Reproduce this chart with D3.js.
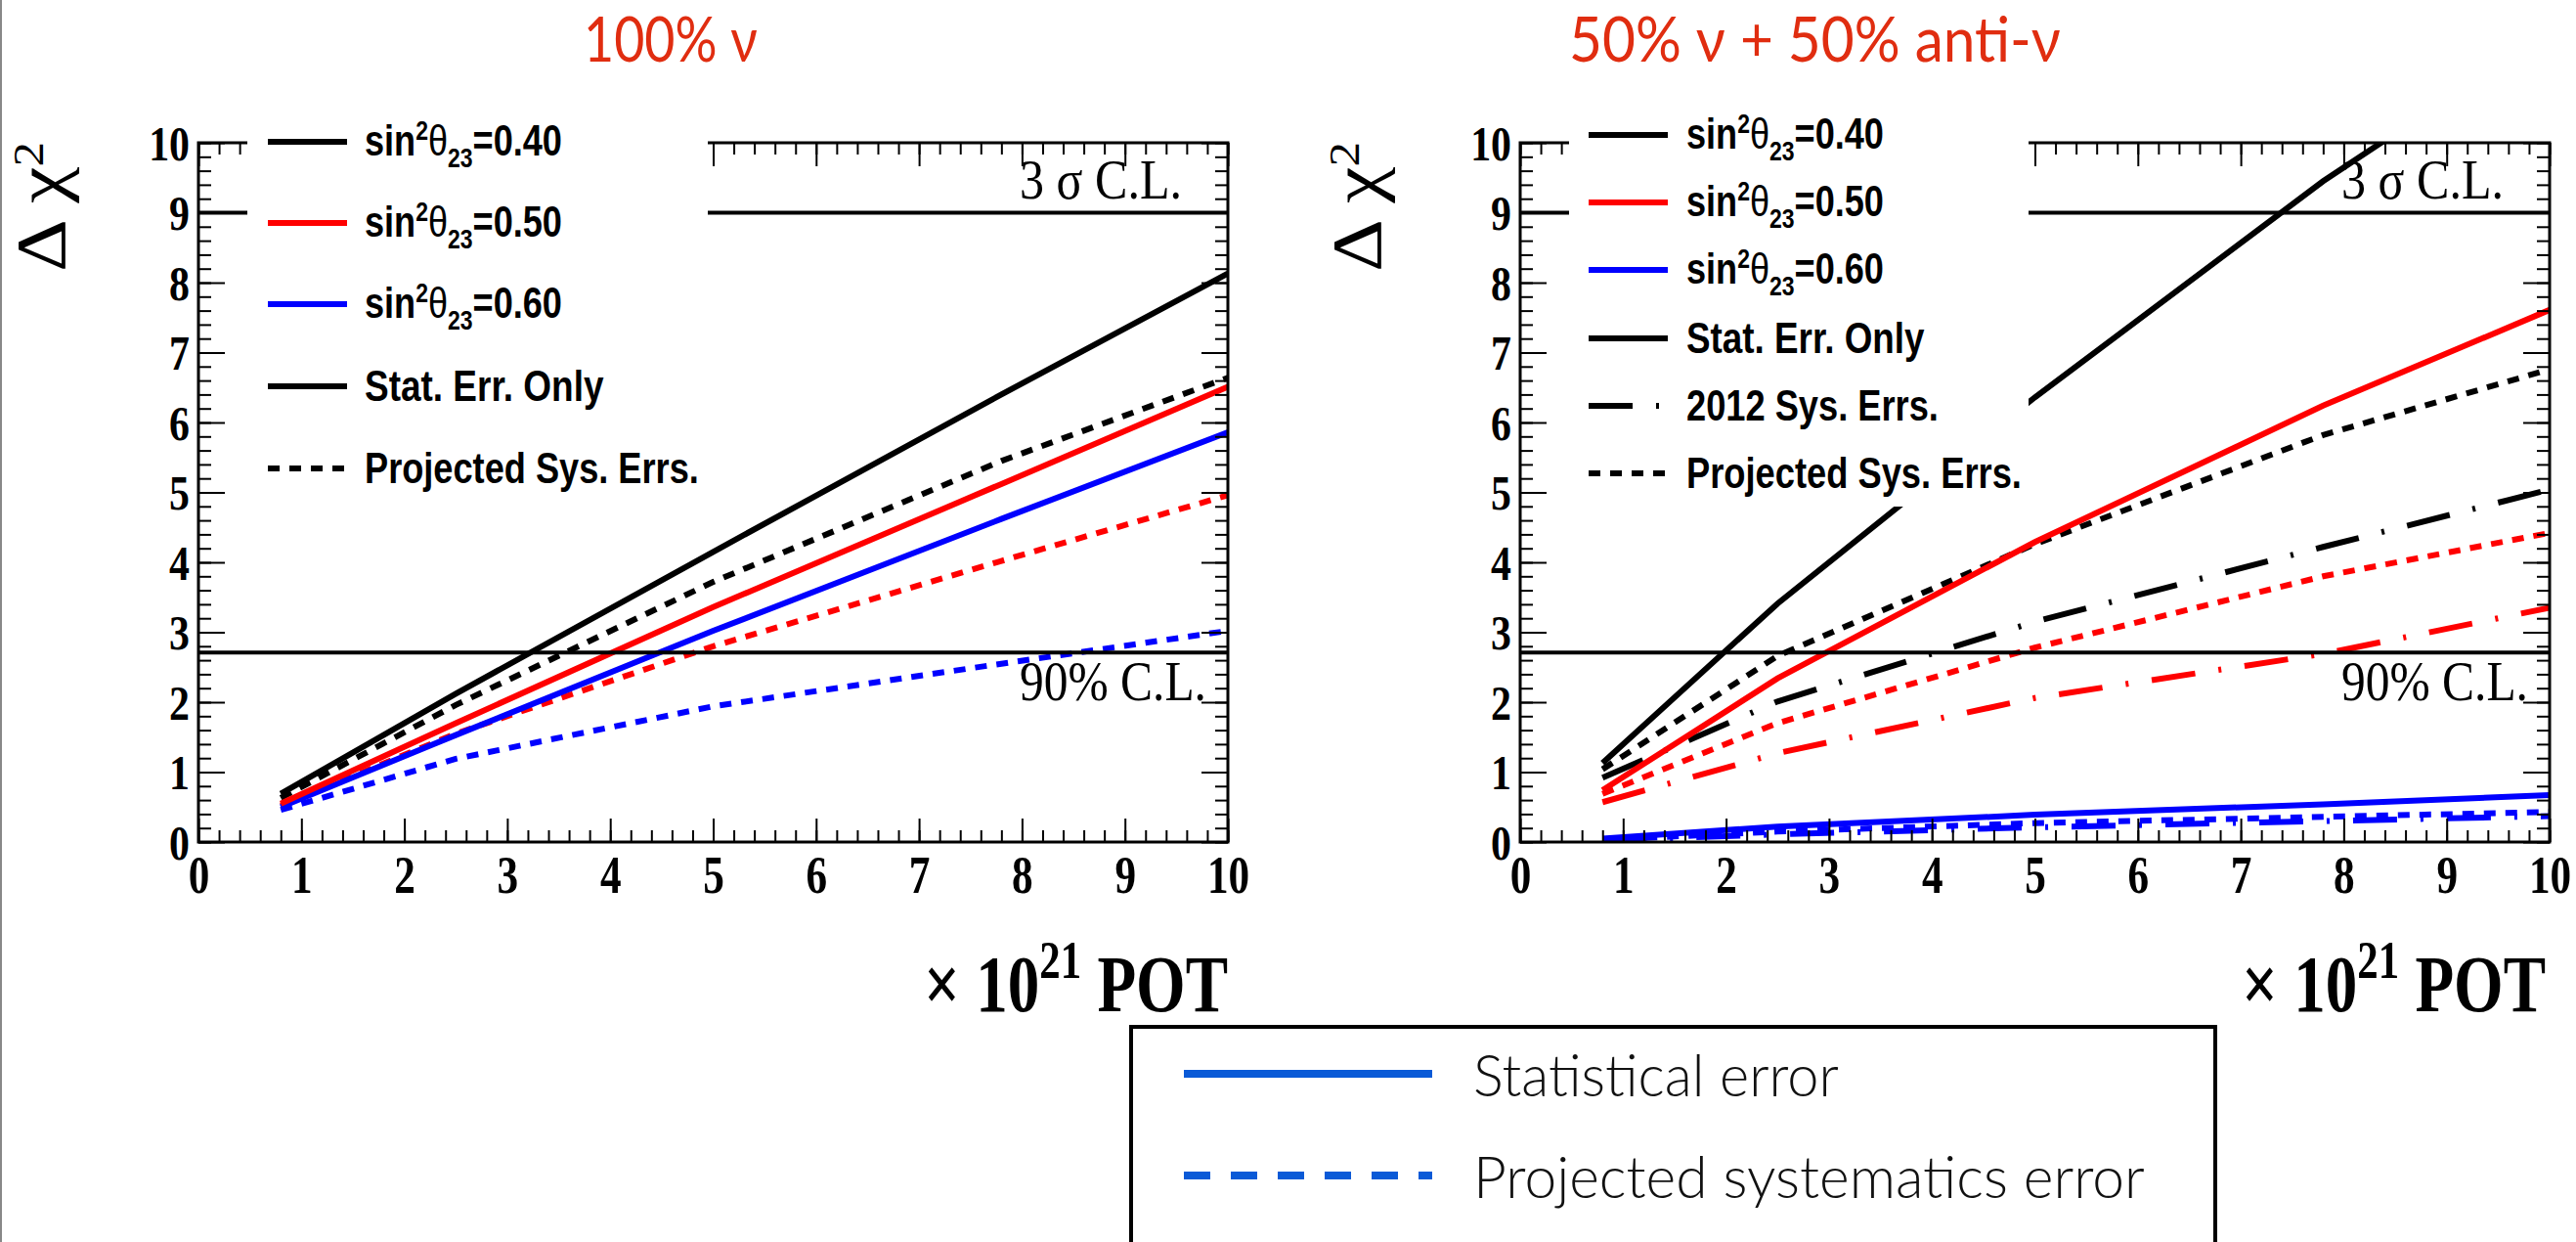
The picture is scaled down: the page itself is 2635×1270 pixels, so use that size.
<!DOCTYPE html>
<html>
<head>
<meta charset="utf-8">
<script src="https://cdn.jsdelivr.net/npm/d3@7"></script>
<style>
  html, body { margin: 0; padding: 0; background: #fff; }
  svg { display: block; }
</style>
</head>
<body>
<svg id="chart" width="2635" height="1270"></svg>
<script>
(function(){
'use strict';

// exposure (x 10^21 POT) where the sensitivities were evaluated
var potValues = [0.8, 2.5, 5.0, 7.8, 10.0];

// 100% nu running
var nuStat040 = [0.69, 2.12, 4.15, 6.40, 8.13];
var nuStat050 = [0.55, 1.70, 3.36, 5.12, 6.51];
var nuStat060 = [0.50, 1.53, 3.02, 4.62, 5.86];
var nuProj040 = [0.63, 1.96, 3.72, 5.45, 6.64];
var nuProj050 = [0.52, 1.55, 2.80, 4.02, 4.96];
var nuProj060 = [0.46, 1.19, 1.94, 2.55, 3.02];

// 50% nu + 50% anti-nu running
var mixStat040 = [1.13, 3.41, 6.36, 9.45, 11.6];
var mixStat050 = [0.74, 2.34, 4.29, 6.24, 7.61];
var mixStat060 = [0.05, 0.22, 0.39, 0.54, 0.67];
var mixSys2012040 = [0.92, 2.01, 3.15, 4.22, 5.04];
var mixSys2012050 = [0.57, 1.27, 2.06, 2.69, 3.35];
var mixSys2012060 = [0.02, 0.11, 0.21, 0.30, 0.37];
var mixProj040 = [1.04, 2.66, 4.26, 5.82, 6.76];
var mixProj050 = [0.69, 1.70, 2.78, 3.80, 4.42];
var mixProj060 = [0.03, 0.15, 0.27, 0.36, 0.43];

// confidence levels drawn as horizontal lines
var clLevels = [9, 2.71];
var xTicks = [0, 1, 2, 3, 4, 5, 6, 7, 8, 9, 10];
var yTicks = [0, 1, 2, 3, 4, 5, 6, 7, 8, 9, 10];

var panelTitles = ['100% \u03bd', '50% \u03bd + 50% anti-\u03bd'];
var thetaLabels = ['0.40', '0.50', '0.60'];
var bottomLegendLabels = ['Statistical error', 'Projected systematics error'];

var BLACK = '#000', RED = '#ff0000', BLUE = '#0000ff';
var DASH_PROJ = '12,10', DASH_2012 = '45,24,3,24';
var SERIF = '"Liberation Serif", "Times New Roman", serif';
var SANS = '"Liberation Sans", Arial, sans-serif';
var HUMANIST = 'Lato, "Open Sans", sans-serif';

var svg = d3.select('#chart');

// squeeze a text horizontally so that it spans the given width
function fitText(sel, x, y, width, extra) {
    var w = sel.node().getBBox().width;
    var k = w > 0 ? width / w : 1;
    sel.attr('x', 0).attr('y', 0)
        .attr('transform', 'translate(' + x + ',' + y + ')' + (extra || '') + ' scale(' + k + ',1)');
    return sel;
}

function sinLabel(g, value, x, y, width) {
    var t = g.append('text')
        .attr('font-family', SANS).attr('font-weight', 'bold')
        .attr('font-size', 44).attr('fill', '#000');
    t.append('tspan').text('sin');
    t.append('tspan').attr('dy', -16).attr('font-size', 28).text('2');
    t.append('tspan').attr('dy', 16).attr('font-weight', 'normal').text('\u03b8');
    t.append('tspan').attr('dy', 12).attr('font-size', 28).text('23');
    t.append('tspan').attr('dy', -12).text('=' + value);
    fitText(t, x, y, width);
}

function zip(vals) {
    return vals.map(function(v, i) { return [potValues[i], v]; });
}

var panels = [
    {
        left: 203, right: 1256, top: 146, bottom: 861,
        title: panelTitles[0], titleX: 597, titleW: 178,
        yTitleX: 66, potRight: 1256,
        legendBox: [253, 100, 724, 512], legendLineX: 274, legendTextX: 373,
        legendRows: [145, 228, 311, 395, 479],
        series: [
            {values: nuProj060, color: BLUE, dash: DASH_PROJ},
            {values: nuProj050, color: RED, dash: DASH_PROJ},
            {values: nuProj040, color: BLACK, dash: DASH_PROJ},
            {values: nuStat060, color: BLUE, dash: null},
            {values: nuStat050, color: RED, dash: null},
            {values: nuStat040, color: BLACK, dash: null}
        ],
        extraEntries: [
            {label: 'Stat. Err. Only', dash: null, width: 245},
            {label: 'Projected Sys. Errs.', dash: DASH_PROJ, width: 342}
        ]
    },
    {
        left: 1555, right: 2608, top: 146, bottom: 861,
        title: panelTitles[1], titleX: 1605, titleW: 503,
        yTitleX: 1412, potRight: 2604,
        legendBox: [1605, 100, 2075, 518], legendLineX: 1625, legendTextX: 1725,
        legendRows: [138, 207, 276, 346, 415, 484],
        series: [
            {values: mixSys2012060, color: BLUE, dash: DASH_2012},
            {values: mixProj060, color: BLUE, dash: DASH_PROJ},
            {values: mixSys2012050, color: RED, dash: DASH_2012},
            {values: mixProj050, color: RED, dash: DASH_PROJ},
            {values: mixSys2012040, color: BLACK, dash: DASH_2012},
            {values: mixProj040, color: BLACK, dash: DASH_PROJ},
            {values: mixStat060, color: BLUE, dash: null},
            {values: mixStat050, color: RED, dash: null},
            {values: mixStat040, color: BLACK, dash: null}
        ],
        extraEntries: [
            {label: 'Stat. Err. Only', dash: null, width: 244},
            {label: '2012 Sys. Errs.', dash: DASH_2012, width: 258},
            {label: 'Projected Sys. Errs.', dash: DASH_PROJ, width: 343}
        ]
    }
];

// thin page edge on the left
svg.append('rect').attr('x', 0).attr('y', 0).attr('width', 2).attr('height', 1270).attr('fill', '#888');

panels.forEach(function(p, pi) {
    var g = svg.append('g').attr('class', 'panel');
    var x = d3.scaleLinear().domain([0, 10]).range([p.left, p.right]);
    var y = d3.scaleLinear().domain([0, 10]).range([p.bottom, p.top]);
    var minorX = d3.range(0, 10.001, 0.2);
    var minorY = d3.range(0, 10.001, 0.2);

    // title
    var title = g.append('text')
        .attr('font-family', HUMANIST).attr('font-size', 64)
        .attr('fill', '#e02d10').text(p.title);
    fitText(title, p.titleX, 63, p.titleW);

    // clipped data curves
    var clipId = 'clip' + pi;
    g.append('clipPath').attr('id', clipId).append('rect')
        .attr('x', p.left).attr('y', p.top)
        .attr('width', p.right - p.left).attr('height', p.bottom - p.top);

    var line = d3.line()
        .x(function(d) { return x(d[0]); })
        .y(function(d) { return y(d[1]); });

    g.append('g').attr('clip-path', 'url(#' + clipId + ')')
        .selectAll('path.curve').data(p.series)
        .enter().append('path')
        .attr('class', 'curve')
        .attr('d', function(s) { return line(zip(s.values)); })
        .attr('fill', 'none')
        .attr('stroke', function(s) { return s.color; })
        .attr('stroke-width', 6)
        .attr('stroke-dasharray', function(s) { return s.dash; });

    // confidence level lines
    g.selectAll('line.cl').data(clLevels).enter().append('line')
        .attr('class', 'cl')
        .attr('x1', p.left).attr('x2', p.right)
        .attr('y1', function(d) { return y(d); })
        .attr('y2', function(d) { return y(d); })
        .attr('stroke', '#000').attr('stroke-width', 4);

    // axes: ticks all point inside the frame
    function axis(gen, tx, ty, values, size, withLabels) {
        var a = gen.tickValues(values).tickSize(size);
        if (!withLabels) a.tickFormat('');
        var ag = g.append('g').attr('transform', 'translate(' + tx + ',' + ty + ')').call(a);
        ag.select('.domain').remove();
        ag.selectAll('line').attr('stroke', '#000').attr('stroke-width', 2);
        return ag;
    }

    axis(d3.axisBottom(x), 0, p.bottom, minorX, -12, false);
    axis(d3.axisTop(x), 0, p.top, minorX, -12, false);
    axis(d3.axisLeft(y), p.left, 0, minorY, -13, false);
    axis(d3.axisRight(y), p.right, 0, minorY, -13, false);
    axis(d3.axisTop(x), 0, p.top, xTicks, -24, false);
    axis(d3.axisRight(y), p.right, 0, yTicks, -27, false);

    var xa = axis(d3.axisBottom(x).tickFormat(d3.format('d')), 0, p.bottom, xTicks, -24, true);
    xa.selectAll('text')
        .attr('font-family', SERIF).attr('font-weight', 'bold').attr('font-size', 54)
        .attr('fill', '#000').attr('dy', null).attr('y', 0)
        .attr('transform', 'translate(0,52) scale(0.8,1)');

    var ya = axis(d3.axisLeft(y).tickFormat(d3.format('d')), p.left, 0, yTicks, -27, true);
    ya.selectAll('text')
        .attr('font-family', SERIF).attr('font-weight', 'bold').attr('font-size', 51)
        .attr('fill', '#000').attr('dy', null).attr('x', 0).attr('y', 0)
        .attr('transform', 'translate(-9,17) scale(0.82,1)');

    // frame
    g.append('rect')
        .attr('x', p.left).attr('y', p.top)
        .attr('width', p.right - p.left).attr('height', p.bottom - p.top)
        .attr('fill', 'none').attr('stroke', '#000').attr('stroke-width', 3);

    // confidence level labels
    var cl3 = g.append('text').attr('font-family', SERIF).attr('font-size', 56).attr('fill', '#000')
        .text('3 \u03c3 C.L.');
    fitText(cl3, p.left + 840, 203, 166);
    var cl90 = g.append('text').attr('font-family', SERIF).attr('font-size', 56).attr('fill', '#000')
        .text('90% C.L.');
    fitText(cl90, p.left + 840, 716, 191);

    // y title
    var yt = g.append('text').attr('font-family', SERIF)
        .attr('font-size', 72).attr('fill', '#000');
    yt.append('tspan').text('\u0394 \u03c7');
    yt.append('tspan').attr('dy', -22).attr('font-size', 44).text('2');
    fitText(yt, p.yTitleX, 278, 133, ' rotate(-90)');

    // x title
    var xt = g.append('text').attr('font-family', SERIF).attr('font-weight', 'bold')
        .attr('font-size', 82).attr('fill', '#000').attr('text-anchor', 'end');
    xt.append('tspan').text('\u00d7 10');
    xt.append('tspan').attr('dy', -34).attr('font-size', 54).text('21');
    xt.append('tspan').attr('dy', 34).text(' POT');
    fitText(xt, p.potRight, 1034, 311);

    // legend box covers frame and curves like the ROOT TLegend
    var lb = p.legendBox;
    g.append('rect').attr('x', lb[0]).attr('y', lb[1])
        .attr('width', lb[2] - lb[0]).attr('height', lb[3] - lb[1])
        .attr('fill', '#fff');

    var entries = [
        {color: BLACK, dash: null, theta: thetaLabels[0]},
        {color: RED, dash: null, theta: thetaLabels[1]},
        {color: BLUE, dash: null, theta: thetaLabels[2]}
    ].concat(p.extraEntries.map(function(e) {
        return {color: BLACK, dash: e.dash, label: e.label, width: e.width};
    }));

    entries.forEach(function(e, i) {
        var ry = p.legendRows[i];
        g.append('line')
            .attr('x1', p.legendLineX).attr('x2', p.legendLineX + 81)
            .attr('y1', ry).attr('y2', ry)
            .attr('stroke', e.color).attr('stroke-width', 6)
            .attr('stroke-dasharray', e.dash);
        if (e.theta) {
            sinLabel(g, e.theta, p.legendTextX, ry + 14, 202);
        } else {
            var t = g.append('text').attr('font-family', SANS).attr('font-weight', 'bold')
                .attr('font-size', 44).attr('fill', '#000').text(e.label);
            fitText(t, p.legendTextX, ry + 15, e.width);
        }
    });
});

// shared legend at the bottom
var lg = svg.append('g').attr('class', 'bottom-legend');
lg.append('rect').attr('x', 1157).attr('y', 1050).attr('width', 1109).attr('height', 260)
    .attr('fill', '#fff').attr('stroke', '#000').attr('stroke-width', 4);

var bottomEntries = [
    {label: bottomLegendLabels[0], dash: null, y: 1098, width: 374},
    {label: bottomLegendLabels[1], dash: '27,21', y: 1202, width: 687}
];
bottomEntries.forEach(function(e) {
    lg.append('line').attr('x1', 1211).attr('x2', 1465)
        .attr('y1', e.y).attr('y2', e.y)
        .attr('stroke', '#0a5ad7').attr('stroke-width', 8)
        .attr('stroke-dasharray', e.dash);
    var t = lg.append('text').attr('font-family', HUMANIST).attr('font-weight', 300)
        .attr('font-size', 60).attr('fill', '#111').text(e.label);
    fitText(t, 1507, e.y + 23, e.width);
});

})();
</script>
</body>
</html>
